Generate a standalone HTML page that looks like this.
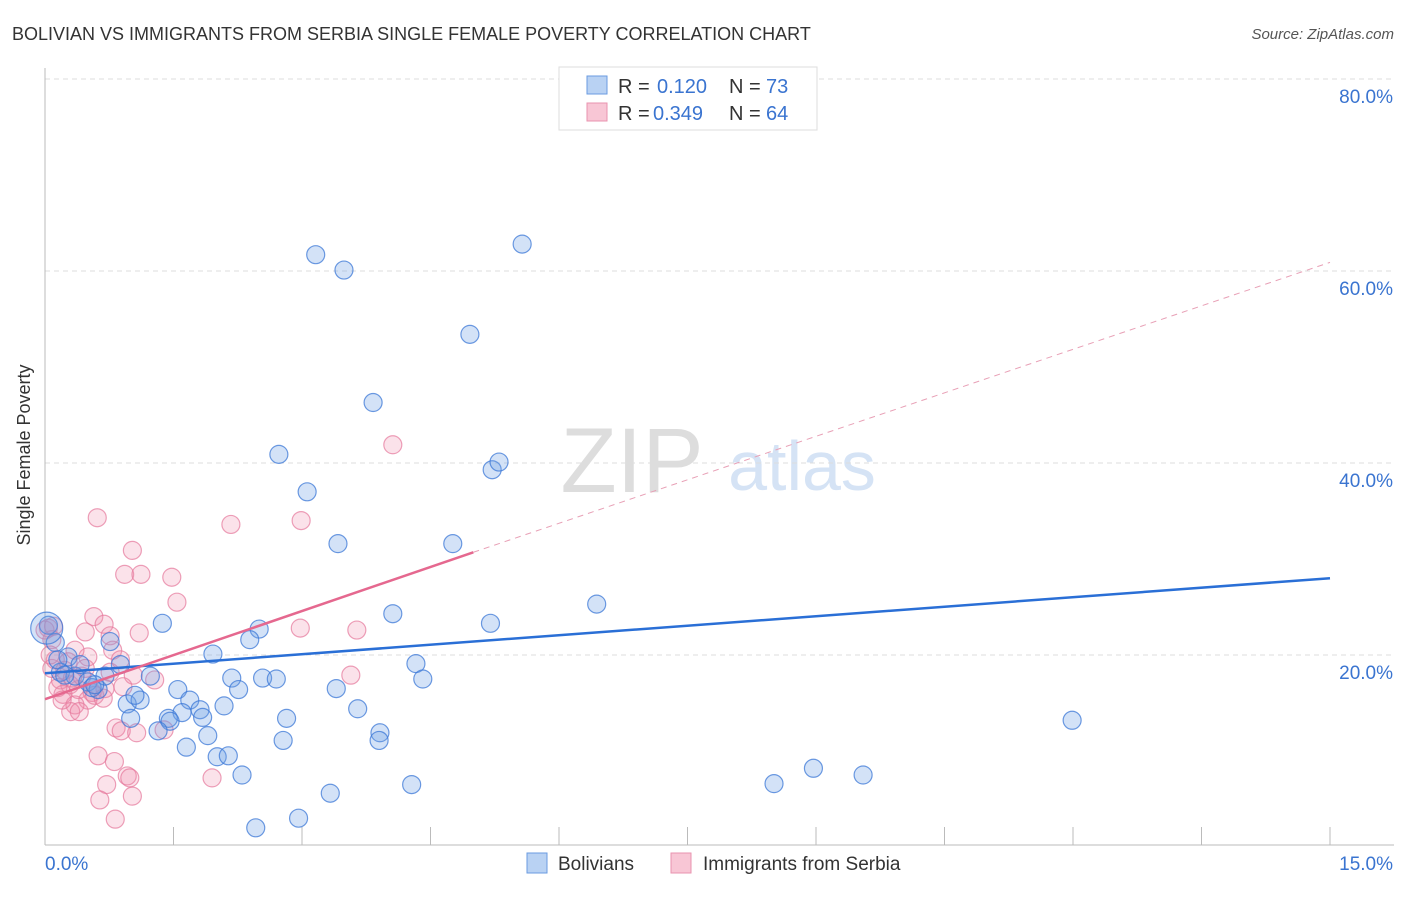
<!DOCTYPE html>
<html><head><meta charset="utf-8"><style>
body{margin:0;background:#fff;font-family:"Liberation Sans",sans-serif;}
svg text{font-family:"Liberation Sans",sans-serif;}
</style></head><body>
<svg id="chart" width="1406" height="892" xmlns="http://www.w3.org/2000/svg">
<text x="12" y="40" font-size="18" fill="#333">BOLIVIAN VS IMMIGRANTS FROM SERBIA SINGLE FEMALE POVERTY CORRELATION CHART</text>
<text x="1394" y="39" font-size="15" fill="#555" font-style="italic" text-anchor="end">Source: ZipAtlas.com</text>
<text x="30" y="455" font-size="18" fill="#333" text-anchor="middle" transform="rotate(-90 30 455)">Single Female Poverty</text>
<g>
<text x="632" y="492" font-size="92" fill="#ddd" font-family="Liberation Serif" text-anchor="middle">ZIP</text>
<text x="802" y="490" font-size="70" fill="#d5e3f5" text-anchor="middle">atlas</text>
</g>
<g id="grid"></g><g id="axes"></g><g id="pts"></g><g id="lines"></g>
<g>
<rect x="559" y="67" width="258" height="63" fill="#fff" stroke="#ddd"/>
<rect x="587" y="76" width="20" height="18" fill="#b9d2f3" stroke="#6a9be0"/>
<rect x="587" y="103" width="20" height="18" fill="#f8c6d5" stroke="#e993af"/>
<text x="618" y="93" font-size="20" fill="#333">R =</text>
<text x="657" y="93" font-size="20" fill="#3a74d0">0.120</text>
<text x="729" y="93" font-size="20" fill="#333">N =</text>
<text x="766" y="93" font-size="20" fill="#3a74d0">73</text>
<text x="618" y="120" font-size="20" fill="#333">R =</text>
<text x="653" y="120" font-size="20" fill="#3a74d0">0.349</text>
<text x="729" y="120" font-size="20" fill="#333">N =</text>
<text x="766" y="120" font-size="20" fill="#3a74d0">64</text>
</g>
<g>
<rect x="527" y="853" width="20" height="20" fill="#b9d2f3" stroke="#6a9be0"/>
<text x="558" y="870" font-size="19" fill="#333">Bolivians</text>
<rect x="671" y="853" width="20" height="20" fill="#f8c6d5" stroke="#e993af"/>
<text x="703" y="870" font-size="19" fill="#333">Immigrants from Serbia</text>
</g>
</svg>
<script>
const yTicks=[20,40,60,80];
const yTickLabels=["20.0%","40.0%","60.0%","80.0%"];
const xTickVals=[0,1.5,3,4.5,6,7.5,9,10.5,12,13.5,15];
const blueX=[3.16,3.49,5.57,4.96,3.83,2.73,3.06,5.22,5.30,3.42,4.76,6.44,4.06,5.20,1.37,2.50,2.39,1.96,0.76,0.88,1.23,2.18,2.54,2.70,1.55,2.26,3.40,4.33,4.41,1.69,1.81,2.09,0.96,1.11,1.05,1.60,1.44,1.46,1.84,1.32,1.00,2.82,3.65,3.91,3.90,1.90,2.78,1.65,2.01,2.14,2.30,3.33,4.28,2.96,2.46,11.99,8.51,8.97,9.55,0.04,0.12,0.27,0.18,0.35,0.50,0.62,0.55,0.70,0.41,0.15,0.23,0.58,0.02];
const blueY=[61.7,60.1,62.8,53.4,46.3,40.9,37.0,39.3,40.1,31.6,31.6,25.3,24.3,23.3,23.3,22.7,21.6,20.1,21.4,19.0,17.8,17.6,17.6,17.5,16.4,16.4,16.5,19.1,17.5,15.3,14.3,14.7,14.9,15.3,15.8,14.0,13.4,13.1,13.5,12.1,13.4,13.4,14.4,11.9,11.1,11.6,11.1,10.4,9.4,9.5,7.5,5.6,6.5,3.0,2.0,13.2,6.6,8.2,7.5,23.1,21.3,19.8,18.2,17.8,17.2,16.4,16.6,17.8,19.0,19.5,17.9,16.9,22.8];
const blueR=Array(72).fill(9).concat([16]);
const pinkX=[4.06,0.61,2.17,2.99,1.02,0.93,1.12,1.48,1.54,0.57,0.69,1.10,0.76,0.47,2.98,3.64,3.57,0.79,0.50,1.03,1.28,0.91,0.70,0.55,0.18,0.08,0.29,0.39,0.21,0.50,0.35,0.30,0.40,0.83,0.89,1.07,1.39,0.62,0.81,0.72,0.64,1.02,0.96,0.99,0.82,1.95,0.04,0.08,0.12,0.23,0.32,0.43,0.15,0.20,0.58,0.68,0.47,0.06,0.00,0.27,0.76,0.88,0.35,0.10];
const pinkY=[41.9,34.3,33.6,34.0,30.9,28.4,28.4,28.1,25.5,24.0,23.2,22.3,22.0,22.4,22.8,22.6,17.9,20.5,19.8,17.9,17.4,16.7,16.5,16.1,17.4,18.6,16.9,16.4,15.9,15.3,14.8,14.1,14.1,12.4,12.1,11.9,12.2,9.5,8.9,6.5,4.9,5.3,7.4,7.2,2.9,7.2,22.8,21.6,19.5,18.4,17.6,17.8,16.6,15.3,15.8,15.5,18.6,20.0,22.6,19.3,18.2,19.5,20.5,23.0];
const blueLine=[[0,18.1],[15,28.0]];
const pinkSolid=[[0,15.4],[5.0,30.7]];
const pinkDash=[[5.0,30.7],[15,60.9]];
const NS="http://www.w3.org/2000/svg";
const sx=v=>45+v*(1285/15);
const sy=v=>847-v*9.6;
function mk(tag,attrs,parent){const e=document.createElementNS(NS,tag);for(const k in attrs)e.setAttribute(k,attrs[k]);document.getElementById(parent).appendChild(e);return e;}
yTicks.forEach((t,i)=>{
 const l=mk('line',{x1:45,x2:1394,y1:sy(t),y2:sy(t),stroke:'#ddd','stroke-dasharray':'5,4'},'grid');
 
 
 const tx=mk('text',{x:1393,y:sy(t)+24,'font-size':19,fill:'#3a74d0','text-anchor':'end'},'grid');
 tx.textContent=yTickLabels[i];
 
 
});
const topGrid=mk('line',{x1:45,x2:1394,y1:79,y2:79,stroke:'#ddd','stroke-dasharray':'5,4'},'grid');


const ax=mk('line',{x1:45,x2:1394,y1:845,y2:845,stroke:'#bbb'},'axes');


const ay=mk('line',{x1:45,x2:45,y1:68,y2:845,stroke:'#bbb'},'axes');


xTickVals.forEach(v=>{
 const t=mk('line',{x1:sx(v),x2:sx(v),y1:827,y2:845,stroke:'#bbb'},'axes');
 
 
});
const xl0=mk('text',{x:45,y:870,'font-size':19,fill:'#3a74d0'},'axes');xl0.textContent='0.0%';


const xl1=mk('text',{x:1393,y:870,'font-size':19,fill:'#3a74d0','text-anchor':'end'},'axes');xl1.textContent='15.0%';


pinkX.forEach((x,i)=>{
 const c=mk('circle',{cx:sx(x),cy:sy(pinkY[i]),r:9,fill:'rgba(240,140,170,0.25)',stroke:'rgba(230,120,155,0.7)','stroke-width':1.2},'pts');
 
 
});
blueX.forEach((x,i)=>{
 const c=mk('circle',{cx:sx(x),cy:sy(blueY[i]),r:blueR[i],fill:'rgba(110,160,230,0.3)',stroke:'rgba(60,120,215,0.75)','stroke-width':1.2},'pts');
 
 
});
const bl=mk('line',{x1:sx(blueLine[0][0]),y1:sy(blueLine[0][1]),x2:sx(blueLine[1][0]),y2:sy(blueLine[1][1]),stroke:'#2a6fd6','stroke-width':2.5},'lines');


const ps=mk('line',{x1:sx(pinkSolid[0][0]),y1:sy(pinkSolid[0][1]),x2:sx(pinkSolid[1][0]),y2:sy(pinkSolid[1][1]),stroke:'#e5688f','stroke-width':2.5},'lines');


const pd=mk('line',{x1:sx(pinkDash[0][0]),y1:sy(pinkDash[0][1]),x2:sx(pinkDash[1][0]),y2:sy(pinkDash[1][1]),stroke:'#e8a0b6','stroke-width':1,'stroke-dasharray':'6,5'},'lines');


</script>
</body></html>
